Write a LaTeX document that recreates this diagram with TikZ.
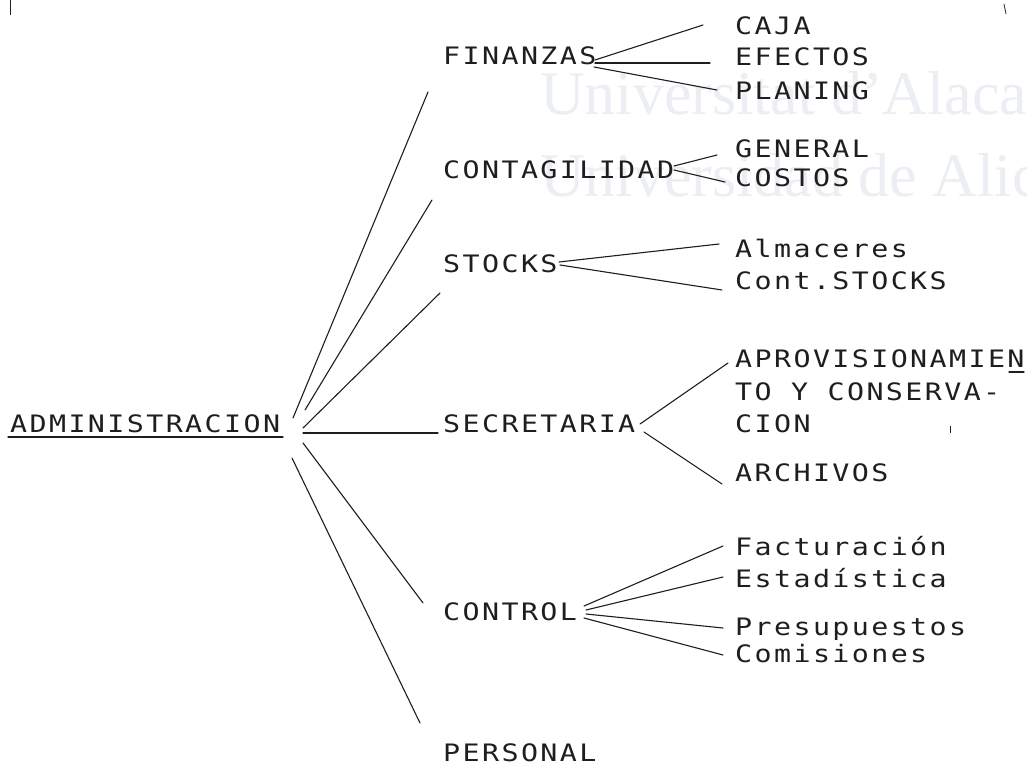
\documentclass[tikz,border=0pt]{standalone}
\usepackage{fontspec}
\newfontfamily\twfont[LetterSpace=10,FakeStretch=1.18]{DejaVu Sans Mono}
\newfontfamily\wmfont{Liberation Serif}
\definecolor{wmcol}{RGB}{235,238,243}
\definecolor{ink}{RGB}{30,30,30}
\begin{document}
\begin{tikzpicture}[x=1pt,y=-1pt,
  txt/.style={anchor=base west,inner sep=0pt,text=ink,font=\twfont\fontsize{24}{24}\selectfont},
  wm/.style={anchor=base west,inner sep=0pt,text=wmcol,font=\wmfont\fontsize{62}{62}\selectfont},
  link/.style={draw=ink,line width=1.1pt,line cap=round},
  speck/.style={draw=ink,line width=0.8pt}]
\useasboundingbox (0,0) rectangle (1027,765);
\clip (0,0) rectangle (1027,765);
\fill[white] (0,0) rectangle (1027,765);
% watermark
\node[wm] (wm1) at (540,114) {Universitat d’Alacant};
\node[wm] (wm2) at (540,196) {Universidad de Alicante};
% level 0
\node[txt] (adm) at (10,432) {ADMINISTRACION};
% level 1
\node[txt] (fin) at (443,65) {FINANZAS};
\node[txt] (con) at (443,178) {CONTAGILIDAD};
\node[txt] (sto) at (443,272) {STOCKS};
\node[txt] (sec) at (443,432) {SECRETARIA};
\node[txt] (ctl) at (443,620) {CONTROL};
\node[txt] (per) at (443,761) {PERSONAL};
% level 2
\node[txt] (caja) at (735,35) {CAJA};
\node[txt] (efe) at (735,66) {EFECTOS};
\node[txt] (pla) at (735,100) {PLANING};
\node[txt] (gen) at (735,157) {GENERAL};
\node[txt] (cos) at (735,186) {COSTOS};
\node[txt] (alm) at (735,257) {Almaceres};
\node[txt] (cst) at (735,289) {Cont.STOCKS};
\node[txt] (apr1) at (735,367) {APROVISIONAMIEN};
\node[txt] (apr2) at (735,400) {TO Y CONSERVA-};
\node[txt] (apr3) at (735,432) {CION};
\node[txt] (arc) at (735,481) {ARCHIVOS};
\node[txt] (fac) at (735,555) {Facturación};
\node[txt] (est) at (735,587) {Estadística};
\node[txt] (pre) at (735,635) {Presupuestos};
\node[txt] (com) at (735,662) {Comisiones};
% underlines
\coordinate (ul1) at (8,437);
\coordinate (ul2) at (283,437);
\draw[link,line width=1.3pt] (ul1) -- (ul2);
\coordinate (un1) at (1009,372);
\coordinate (un2) at (1024,372);
\draw[link] (un1) -- (un2);
% fan from ADMINISTRACION
\coordinate (a1) at (293,418); \coordinate (b1) at (428,92);
\coordinate (a2) at (305,410); \coordinate (b2) at (432,200);
\coordinate (a3) at (303,428); \coordinate (b3) at (440,293);
\coordinate (a4) at (303,433); \coordinate (b4) at (438,433);
\coordinate (a5) at (303,443); \coordinate (b5) at (423,603);
\coordinate (a6) at (292,458); \coordinate (b6) at (420,723);
\foreach \i in {1,...,6} {\draw[link] (a\i) -- (b\i);}
% FINANZAS
\coordinate (f0) at (595,60); \coordinate (f1) at (703,25);
\coordinate (f2a) at (595,63); \coordinate (f2) at (710,63);
\coordinate (f3a) at (594,67); \coordinate (f3) at (717,90);
\draw[link] (f0) -- (f1);
\draw[link] (f2a) -- (f2);
\draw[link] (f3a) -- (f3);
% CONTAGILIDAD
\coordinate (c0) at (674,166); \coordinate (c1) at (717,155);
\coordinate (c0b) at (674,170); \coordinate (c2) at (725,182);
\draw[link] (c0) -- (c1);
\draw[link] (c0b) -- (c2);
% STOCKS
\coordinate (s0) at (559,262); \coordinate (s1) at (719,244);
\coordinate (s0b) at (560,265); \coordinate (s2) at (722,290);
\draw[link] (s0) -- (s1);
\draw[link] (s0b) -- (s2);
% SECRETARIA
\coordinate (e0) at (640,424); \coordinate (e1) at (728,363);
\coordinate (e0b) at (644,432); \coordinate (e2) at (722,484);
\draw[link] (e0) -- (e1);
\draw[link] (e0b) -- (e2);
% CONTROL
\coordinate (k1a) at (584,606); \coordinate (k1) at (723,546);
\coordinate (k2a) at (586,610); \coordinate (k2) at (723,577);
\coordinate (k3a) at (586,614); \coordinate (k3) at (723,628);
\coordinate (k4a) at (584,618); \coordinate (k4) at (723,655);
\foreach \i in {1,...,4} {\draw[link] (k\i a) -- (k\i);}
% specks
\coordinate (t1) at (10,0); \coordinate (t2) at (10,15);
\draw[speck] (t1) -- (t2);
\coordinate (t3) at (1004,4); \coordinate (t4) at (1006,14);
\draw[speck] (t3) -- (t4);
\coordinate (t5) at (950,426); \coordinate (t6) at (950,433);
\draw[speck] (t5) -- (t6);
\end{tikzpicture}
\end{document}
